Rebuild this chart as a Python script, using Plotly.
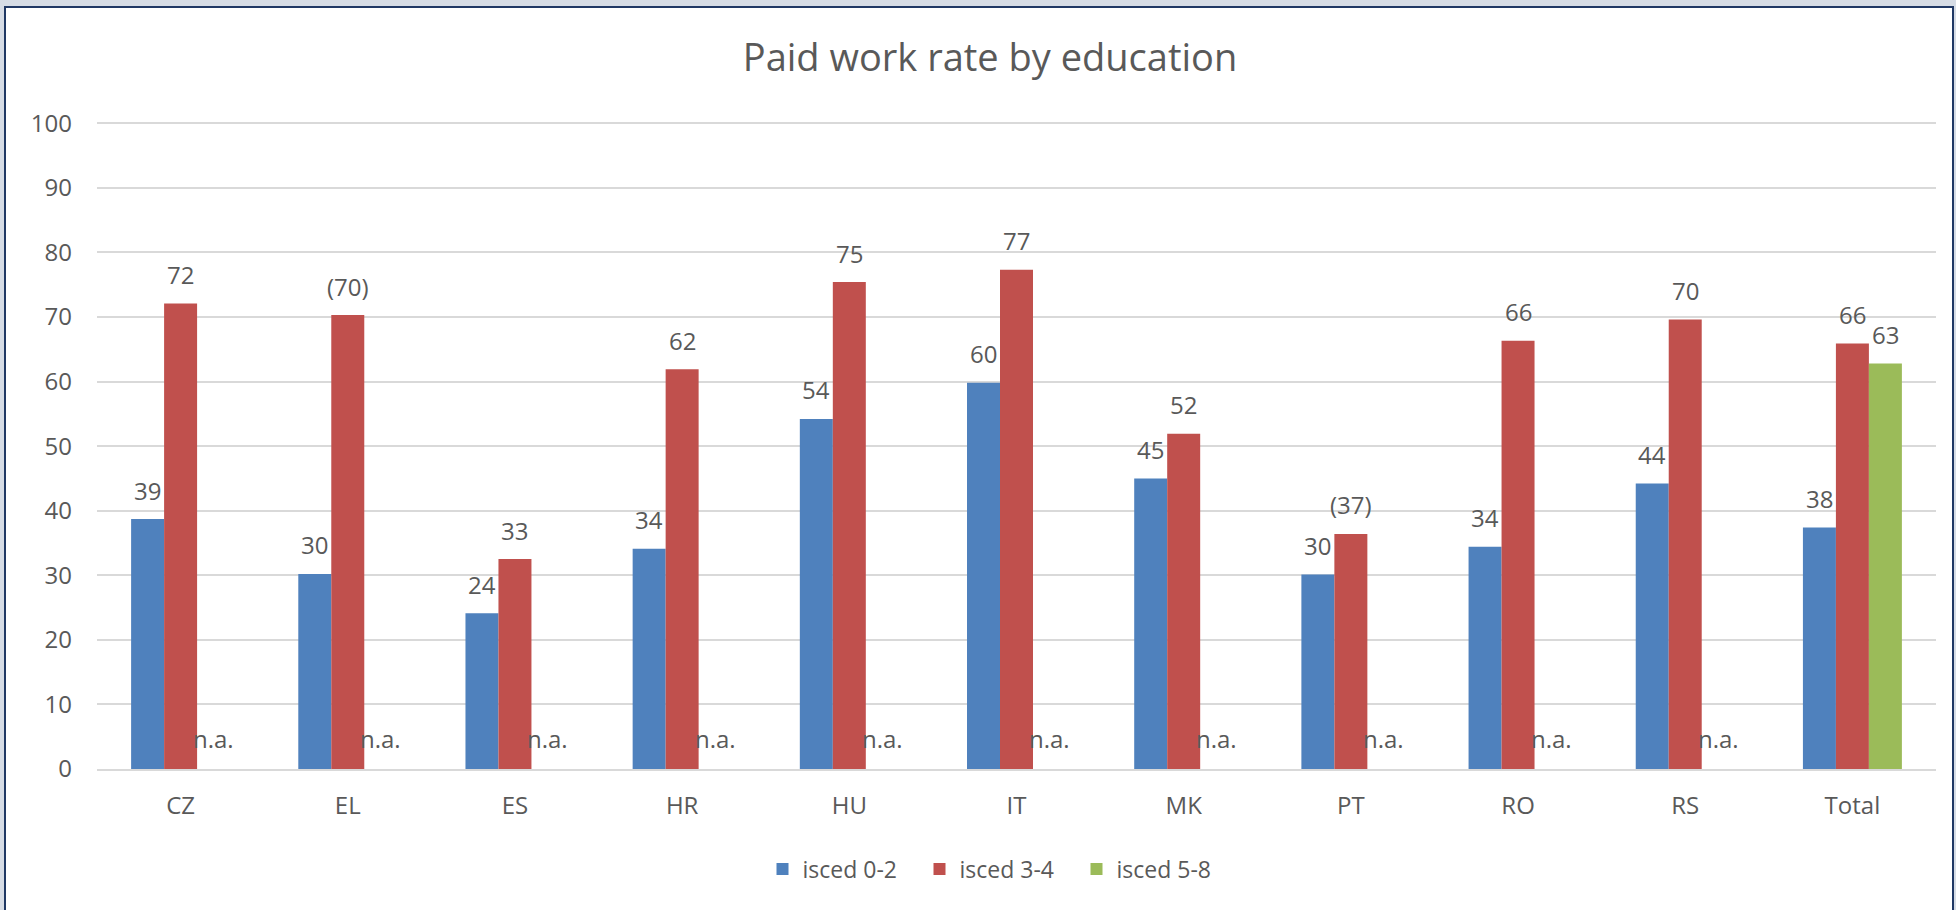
import plotly.graph_objects as go

categories = ["CZ", "EL", "ES", "HR", "HU", "IT", "MK", "PT", "RO", "RS", "Total"]
isced_0_2 = [38.7, 30.2, 24.1, 34.1, 54.2, 59.8, 45.0, 30.1, 34.4, 44.2, 37.4]
isced_3_4 = [72.1, 70.3, 32.5, 61.9, 75.4, 77.3, 51.9, 36.4, 66.3, 69.6, 65.9]
isced_5_8 = [None, None, None, None, None, None, None, None, None, None, 62.8]
labels_0_2 = ["39", "30", "24", "34", "54", "60", "45", "30", "34", "44", "38"]
labels_3_4 = ["72", "(70)", "33", "62", "75", "77", "52", "(37)", "66", "70", "66"]
labels_5_8 = ["n.a.", "n.a.", "n.a.", "n.a.", "n.a.", "n.a.", "n.a.", "n.a.", "n.a.", "n.a.", "63"]
series_names = ["isced 0-2", "isced 3-4", "isced 5-8"]
colors = ["#4F81BD", "#C0504D", "#9BBB59"]
y_ticks = [0, 10, 20, 30, 40, 50, 60, 70, 80, 90, 100]

FONT = "Open Sans"
TXT = "#595959"
W, H = 1956, 910
L, R, T, B = 97, 20, 120, 141
pw, ph = W - L - R, H - T - B
BARGAP = 0.408
YMAX = 100.5

fig = go.Figure()
series = [isced_0_2, isced_3_4, isced_5_8]
labels = [labels_0_2, labels_3_4, labels_5_8]
for name, vals, col in zip(series_names, series, colors):
    fig.add_trace(go.Bar(x=categories, y=vals, name=name,
                         marker=dict(color=col, line=dict(width=0))))

# data labels above bars (n.a. placed at the baseline in the empty slot)
cat_w = pw / len(categories)
bar_w = cat_w * (1 - BARGAP) / 3
for si, (vals, labs) in enumerate(zip(series, labels)):
    for cat, v, lab in zip(categories, vals, labs):
        fig.add_annotation(x=cat, y=(v if v is not None else 0), text=lab,
                           xref="x", yref="y", showarrow=False,
                           xshift=(si - 1) * bar_w, yanchor="middle",
                           yshift=(29 if v is not None else 31),
                           font=dict(family=FONT, size=24, color=TXT))

def px_to_paper_x(px):
    return (px - L) / pw

def px_to_paper_y(py):
    return (H - B - py) / ph

fig.add_shape(type="rect", xref="paper", yref="paper",
              x0=px_to_paper_x(5), x1=px_to_paper_x(1953),
              y0=px_to_paper_y(930), y1=px_to_paper_y(7),
              fillcolor="white", line=dict(color="#203864", width=2), layer="below")

fig.update_layout(
    width=W, height=H,
    margin=dict(l=L, r=R, t=T, b=B, autoexpand=False),
    paper_bgcolor="#D6DCE5",
    plot_bgcolor="rgba(0,0,0,0)",
    barmode="group", bargap=BARGAP, bargroupgap=0,
    font=dict(family=FONT, size=24, color=TXT),
    title=dict(text="Paid work rate by education", xref="paper", x=px_to_paper_x(990),
               xanchor="center", yref="container", y=1 - 58 / H, yanchor="middle",
               font=dict(family=FONT, size=38, color=TXT)),
    legend=dict(orientation="h", xref="paper", x=px_to_paper_x(998), xanchor="center",
                yref="container", y=1 - 869 / H, yanchor="middle", bgcolor="white",
                font=dict(family=FONT, size=23, color=TXT), traceorder="normal",
                entrywidth=112, entrywidthmode="pixels"),
    xaxis=dict(showgrid=False, showline=True, linecolor="#D9D9D9", linewidth=2,
               ticks="", ticklabelstandoff=14, tickfont=dict(family=FONT, size=24, color=TXT)),
    yaxis=dict(range=[0, YMAX], tickvals=y_ticks, showgrid=True, gridcolor="#D9D9D9",
               gridwidth=2, zeroline=False, showline=False, ticks="",
               ticklabelstandoff=24, tickfont=dict(family=FONT, size=24, color=TXT)),
)

fig.write_html("out.html", config={"displayModeBar": False},
               post_script="document.body.style.margin='0';document.body.style.background='#D6DCE5';")
